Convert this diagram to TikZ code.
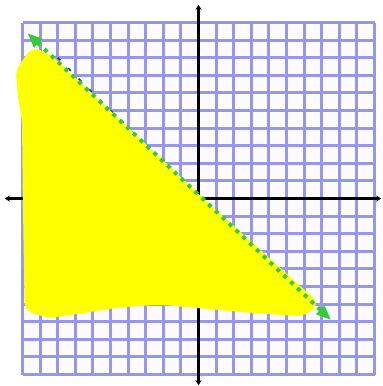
\documentclass[tikz,border=0pt]{standalone}
\usepackage{tikz}
\usetikzlibrary{arrows.meta}
\definecolor{gridcolor}{RGB}{150,150,240}
\definecolor{cellcolor}{RGB}{250,250,255}
\definecolor{linecolor}{RGB}{51,204,51}
\definecolor{shadecolor}{RGB}{255,255,0}
\definecolor{tracecolor}{RGB}{90,20,150}

\begin{document}
\begin{tikzpicture}[
    x=0.5cm, y=0.5cm,
    gridline/.style={draw=gridcolor, line width=2.4pt, step=0.5cm},
    axis/.style={{Stealth[length=4pt,width=5pt]}-{Stealth[length=4pt,width=5pt]}, line width=2.6pt, black},
    region/.style={fill=shadecolor, draw=shadecolor, line width=8pt, line join=round, rounded corners=4pt},
    trace/.style={tracecolor, line width=1.2pt, dash pattern=on 3pt off 9pt},
    boundary/.style={{Triangle[length=12pt,width=9pt]}-{Triangle[length=12pt,width=9pt]}, linecolor, line width=3.2pt, dash pattern=on 3.2pt off 4.4pt}
]
    \useasboundingbox (-11.28,-10.65) rectangle (10.43,11.28);

    % Grid
    \fill[cellcolor] (-10,-10) rectangle (10,10);
    \draw[gridline] (-10,-10) grid (10,10);

    % Axes
    \coordinate (xmin) at (-11.0,0);
    \coordinate (xmax) at (10.37,0);
    \coordinate (ymin) at (0,-10.6);
    \coordinate (ymax) at (0,11.0);
    \draw[axis] (xmin) -- (xmax);
    \draw[axis] (ymin) -- (ymax);

    % Graph of y = -x
    \coordinate (ta) at (-8,8);
    \coordinate (tb) at (2,-2);
    \draw[trace] (ta) -- (tb);

    % Shaded region
    \path[region] (-9.35,8.3) -- (-10.1,7.2) -- (-10.0,6.0) -- (-9.75,4.4)
        -- (-9.7,-0.1) -- (-9.6,-6.2) -- (-8.4,-6.5) -- (-4.5,-5.9)
        -- (-2.2,-5.75) -- (0.1,-5.95) -- (3.5,-6.25) -- (5.8,-6.4)
        -- (6.5,-6.0) -- (0,-0.13) -- (-8.5,7.9) -- cycle;

    % Boundary line
    \coordinate (la) at (-9.72,9.40);
    \coordinate (lb) at (7.53,-6.90);
    \draw[boundary] (la) -- (lb);
\end{tikzpicture}
\end{document}
